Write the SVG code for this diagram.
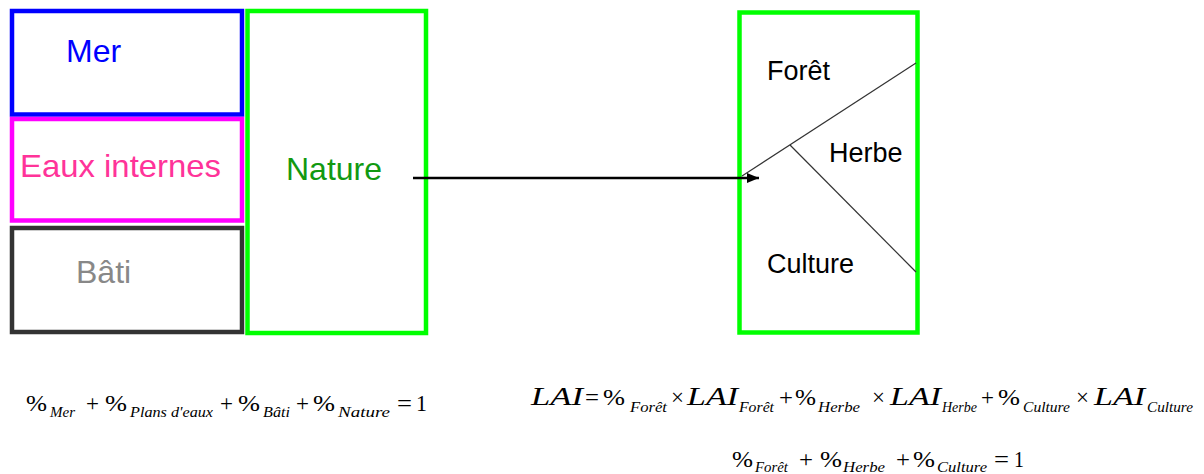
<svg xmlns="http://www.w3.org/2000/svg" width="1204" height="474" viewBox="0 0 1204 474">
<style>
.box{fill:none;stroke-width:4.5}
.lbl{font-family:"Liberation Sans",Arial,sans-serif;font-size:32px}
.lbl2{font-family:"Liberation Sans",Arial,sans-serif;font-size:27px;fill:#000}
.m{font-family:"Liberation Serif","DejaVu Serif",serif;font-size:23px;fill:#000}
.v{font-family:"Liberation Serif","DejaVu Serif",serif;font-size:25px;font-style:italic;fill:#000}
.s{font-family:"Liberation Serif","DejaVu Serif",serif;font-size:15px;font-style:italic;fill:#000}
.thin{stroke:#333;stroke-width:1.2;fill:none}
</style>
<defs>
<marker id="ah" markerUnits="userSpaceOnUse" markerWidth="14" markerHeight="12" refX="12" refY="6" orient="auto">
<path d="M0,1 L12,6 L0,11 Z" fill="#000"/>
</marker>
</defs>
<g id="mer"><rect class="box" x="12" y="11" width="230" height="103.5" stroke="#0000ff"/><text class="lbl" x="66" y="62" fill="#0000ff">Mer</text></g>
<g id="eaux"><rect class="box" x="12" y="119" width="230" height="101.5" stroke="#ff00ff"/><text class="lbl" x="20" y="177" fill="#ff3399" textLength="201" lengthAdjust="spacingAndGlyphs">Eaux internes</text></g>
<g id="bati"><rect class="box" x="12" y="228" width="230" height="104" stroke="#333333"/><text class="lbl" x="76" y="283" fill="#888888">Bâti</text></g>
<g id="nature"><rect class="box" x="247.5" y="11" width="178.5" height="322" stroke="#00ff00"/><text class="lbl" x="286" y="180" fill="#119911">Nature</text></g>
<g id="detail">
<rect class="box" x="739.5" y="12.5" width="178" height="320" stroke="#00ff00"/>
<line class="thin" x1="742" y1="176" x2="916" y2="63"/>
<line class="thin" x1="790" y1="145" x2="916" y2="272"/>
<text class="lbl2" x="767" y="80">Forêt</text>
<text class="lbl2" x="829" y="162">Herbe</text>
<text class="lbl2" x="767" y="273">Culture</text>
</g>
<g id="connectors">
<line x1="413" y1="178" x2="759" y2="178" stroke="#000" stroke-width="2.6" marker-end="url(#ah)"/>
</g>
<g id="eq1">
<text class="m" x="26" y="411" textLength="21" lengthAdjust="spacingAndGlyphs">%</text>
<text class="s" x="50" y="417" textLength="25" lengthAdjust="spacingAndGlyphs">Mer</text>
<text class="m" x="86" y="411" textLength="13" lengthAdjust="spacingAndGlyphs">+</text>
<text class="m" x="105" y="411" textLength="22" lengthAdjust="spacingAndGlyphs">%</text>
<text class="s" x="130" y="417" textLength="83" lengthAdjust="spacingAndGlyphs">Plans d'eaux</text>
<text class="m" x="220" y="411" textLength="13" lengthAdjust="spacingAndGlyphs">+</text>
<text class="m" x="238" y="411" textLength="22" lengthAdjust="spacingAndGlyphs">%</text>
<text class="s" x="263" y="417" textLength="27" lengthAdjust="spacingAndGlyphs">Bâti</text>
<text class="m" x="296" y="411" textLength="13" lengthAdjust="spacingAndGlyphs">+</text>
<text class="m" x="313" y="411" textLength="22" lengthAdjust="spacingAndGlyphs">%</text>
<text class="s" x="338" y="417" textLength="52" lengthAdjust="spacingAndGlyphs">Nature</text>
<text class="m" x="397" y="411" textLength="15" lengthAdjust="spacingAndGlyphs">=</text>
<text class="m" x="416" y="411" textLength="11" lengthAdjust="spacingAndGlyphs">1</text>
</g>
<g id="eq2">
<text class="v" x="531" y="405" textLength="52" lengthAdjust="spacingAndGlyphs">LAI</text>
<text class="m" x="585" y="405" textLength="14" lengthAdjust="spacingAndGlyphs">=</text>
<text class="m" x="603" y="405" textLength="22" lengthAdjust="spacingAndGlyphs">%</text>
<text class="s" x="630" y="412" textLength="37" lengthAdjust="spacingAndGlyphs">Forêt</text>
<text class="m" x="671" y="405" textLength="13" lengthAdjust="spacingAndGlyphs">×</text>
<text class="v" x="687" y="405" textLength="51" lengthAdjust="spacingAndGlyphs">LAI</text>
<text class="s" x="739" y="412" textLength="35" lengthAdjust="spacingAndGlyphs">Forêt</text>
<text class="m" x="779" y="405" textLength="14" lengthAdjust="spacingAndGlyphs">+</text>
<text class="m" x="795" y="405" textLength="21" lengthAdjust="spacingAndGlyphs">%</text>
<text class="s" x="818" y="412" textLength="42" lengthAdjust="spacingAndGlyphs">Herbe</text>
<text class="m" x="872" y="405" textLength="13" lengthAdjust="spacingAndGlyphs">×</text>
<text class="v" x="890" y="405" textLength="51" lengthAdjust="spacingAndGlyphs">LAI</text>
<text class="s" x="942" y="412" textLength="35" lengthAdjust="spacingAndGlyphs">Herbe</text>
<text class="m" x="981" y="405" textLength="13" lengthAdjust="spacingAndGlyphs">+</text>
<text class="m" x="998" y="405" textLength="22" lengthAdjust="spacingAndGlyphs">%</text>
<text class="s" x="1023" y="412" textLength="47" lengthAdjust="spacingAndGlyphs">Culture</text>
<text class="m" x="1076" y="405" textLength="13" lengthAdjust="spacingAndGlyphs">×</text>
<text class="v" x="1094" y="405" textLength="51" lengthAdjust="spacingAndGlyphs">LAI</text>
<text class="s" x="1147" y="412" textLength="46" lengthAdjust="spacingAndGlyphs">Culture</text>
</g>
<g id="eq3">
<text class="m" x="732" y="467" textLength="21" lengthAdjust="spacingAndGlyphs">%</text>
<text class="s" x="755" y="472" textLength="33" lengthAdjust="spacingAndGlyphs">Forêt</text>
<text class="m" x="799" y="467" textLength="14" lengthAdjust="spacingAndGlyphs">+</text>
<text class="m" x="820" y="467" textLength="22" lengthAdjust="spacingAndGlyphs">%</text>
<text class="s" x="843" y="472" textLength="42" lengthAdjust="spacingAndGlyphs">Herbe</text>
<text class="m" x="896" y="467" textLength="14" lengthAdjust="spacingAndGlyphs">+</text>
<text class="m" x="913" y="467" textLength="22" lengthAdjust="spacingAndGlyphs">%</text>
<text class="s" x="937" y="472" textLength="50" lengthAdjust="spacingAndGlyphs">Culture</text>
<text class="m" x="994" y="467" textLength="15" lengthAdjust="spacingAndGlyphs">=</text>
<text class="m" x="1014" y="467" textLength="10" lengthAdjust="spacingAndGlyphs">1</text>
</g>
</svg>
